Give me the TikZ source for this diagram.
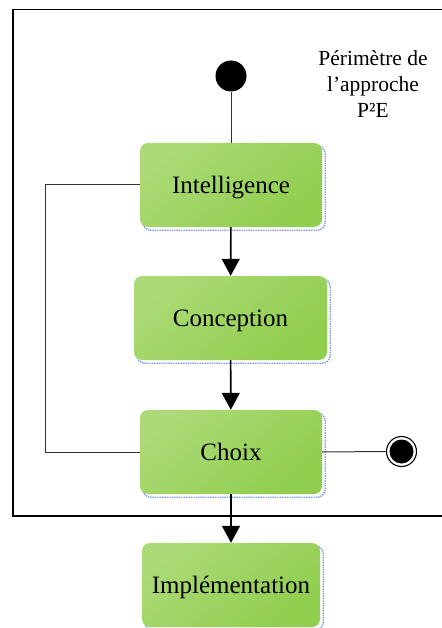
\documentclass[tikz,border=0pt]{standalone}
\usepackage{fontspec}
\setmainfont{Liberation Serif}
\usetikzlibrary{arrows.meta,backgrounds}
\definecolor{gLight}{RGB}{172,218,118}
\definecolor{gDark}{RGB}{144,206,78}
\definecolor{shblue}{RGB}{120,155,225}
\definecolor{fbgray}{RGB}{50,50,50}
\tikzset{
  act/.style={rounded corners=8pt, minimum height=84pt, inner sep=0pt,
    text height=17pt, text depth=0pt,
    top color=gLight, bottom color=gDark, shading angle=40,
    font=\fontsize{25}{30}\selectfont},
  actshadow/.style={rounded corners=8pt, draw=shblue, densely dotted, line width=1.4pt, fill=white},
  arr/.style={line width=1.6pt, -{Triangle[width=18pt,length=17pt]}},
  thin/.style={line width=1pt, draw=fbgray},
  frame/.style={line width=1.5pt},
  label/.style={align=center, font=\fontsize{21.5}{26}\selectfont}
}
\begin{document}
\begin{tikzpicture}[x=1pt,y=1pt]
\useasboundingbox (0,0) rectangle (441,-628);
% frame
\coordinate (ftr) at (445,-9.5);
\coordinate (ftl) at (13,-9.5);
\coordinate (fbl) at (13,-516);
\coordinate (fbr) at (445,-516);
\draw[frame] (ftr) -- (ftl) -- (fbl) -- (fbr);
% label
\node[label] (lab) at (373,-84) {Périmètre de\\l’approche\\P²E};
% nodes
\node[circle, fill=black, minimum size=31pt, inner sep=0pt] (start) at (231,-76) {};
\node[act, minimum width=182pt] (intel) at (231,-185) {Intelligence};
\node[act, minimum width=193pt] (concep) at (230.5,-318) {Conception};
\node[act, minimum width=182pt] (choix) at (231,-452) {Choix};
\node[act, minimum width=178pt] (impl) at (231,-585) {Implémentation};
\node[circle, draw=black, line width=1.1pt, fill=white, minimum size=30pt, inner sep=0pt,
  path picture={\fill[black] (path picture bounding box.center) circle (12pt);}] (end) at (401.5,-451.5) {};
% shadows
\begin{scope}[on background layer]
  \foreach \n in {intel,concep,choix,impl}{
    \draw[actshadow] ([shift={(3pt,-3pt)}]\n.south west) rectangle ([shift={(3pt,-3pt)}]\n.north east);
  }
\end{scope}
% connectors
\draw[thin] (start) -- (intel);
\draw[arr] (intel) -- (concep);
\draw[arr] (concep) -- (choix);
\draw[arr] (choix) -- (impl);
\draw[thin] (intel.west) -- ++(-94,0) |- (choix.west);
\draw[thin] (choix.east) -- (end.west);
\end{tikzpicture}
\end{document}
